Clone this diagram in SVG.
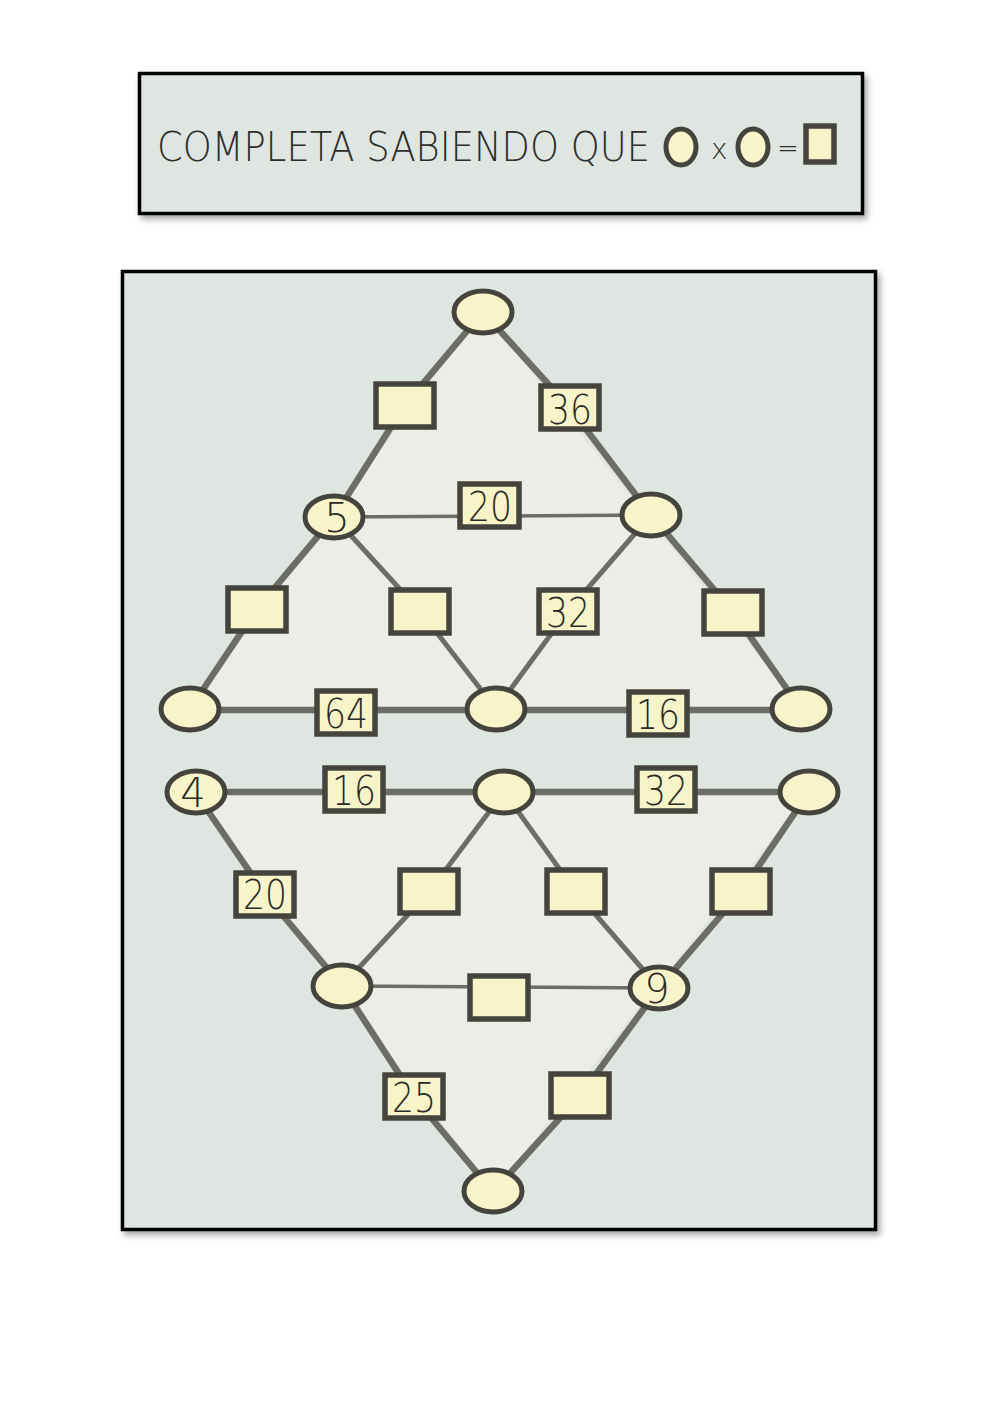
<svg xmlns="http://www.w3.org/2000/svg" width="1000" height="1413" viewBox="0 0 1000 1413">
<defs>
<filter id="sh" x="-5%" y="-5%" width="112%" height="115%">
<feDropShadow dx="3" dy="4" stdDeviation="3" flood-color="#000" flood-opacity="0.35"/>
</filter>
<style>
.frame{fill:#dfe6e1;stroke:#000;stroke-width:3.5}
.tri{fill:#edece7}
.c{fill:#f8f4c9;stroke:#44443d;stroke-width:5}
.s{fill:#f8f4c9;stroke:#44443d;stroke-width:5.5}
.e{stroke:#6c6e66;stroke-width:6.5;fill:none;stroke-linecap:round}
.ei{stroke:#6c6e66;stroke-width:5;fill:none}
.eh{stroke:#6c6e66;stroke-width:3.5;fill:none}
.n{font-family:"DejaVu Sans","Liberation Sans",sans-serif;font-weight:200;font-size:40px;fill:#2a2a26;text-anchor:middle}
.h{font-family:"DejaVu Sans","Liberation Sans",sans-serif;font-weight:200;fill:#2d2d2a}
</style>
</defs>
<rect width="1000" height="1413" fill="#ffffff"/>

<g id="header">
<rect class="frame" x="139.5" y="73.5" width="723" height="140" filter="url(#sh)"/>
<text class="h" x="157" y="161" font-size="41" textLength="493" lengthAdjust="spacingAndGlyphs">COMPLETA SABIENDO QUE</text>
<ellipse class="c" cx="681" cy="147" rx="15" ry="18"/>
<text class="h" x="711" y="159" font-size="28">x</text>
<ellipse class="c" cx="753" cy="147" rx="15" ry="18"/>
<text class="h" x="777" y="157" font-size="26">=</text>
<rect class="s" x="806" y="126" width="28" height="36" stroke-width="5"/>
</g>

<rect id="board" class="frame" x="122.5" y="271.5" width="753" height="958" filter="url(#sh)"/>

<g id="triangles">
<polygon class="tri" points="483,312 190,709 801,709"/>
<polygon class="tri" points="195,792 809,792 493,1192"/>
</g>

<g id="connectors">
<polyline class="e" points="483,312 405,405 334,517 257,609 190,709"/>
<polyline class="e" points="483,312 570,408 651,515 733,612 801,709"/>
<line class="eh" x1="334" y1="517" x2="651" y2="515"/>
<polyline class="ei" points="334,517 420,611 496,709"/>
<polyline class="ei" points="651,515 568,611 496,709"/>
<line class="e" x1="190" y1="710" x2="801" y2="710"/>

<line class="e" x1="195" y1="792" x2="809" y2="792"/>
<polyline class="e" points="195,792 265,894 342,986 414,1097 493,1192"/>
<polyline class="e" points="809,792 741,892 659,988 580,1096 493,1192"/>
<polyline class="ei" points="504,792 429,892 342,986"/>
<polyline class="ei" points="504,792 576,892 659,988"/>
<line class="eh" x1="342" y1="986" x2="659" y2="988"/>
</g>

<g id="n-top"><ellipse class="c" cx="483" cy="312" rx="29" ry="21"/></g>
<g id="s-ul"><rect class="s" x="376" y="384" width="58" height="43"/></g>
<g id="s-36"><rect class="s" x="541" y="386" width="58" height="43"/><text class="n" x="570" y="424" textLength="44" lengthAdjust="spacingAndGlyphs">36</text></g>
<g id="n-5"><ellipse class="c" cx="334" cy="517" rx="29" ry="21"/><text class="n" x="337" y="532">5</text></g>
<g id="s-20a"><rect class="s" x="460" y="484" width="59" height="43"/><text class="n" x="490" y="521" textLength="44" lengthAdjust="spacingAndGlyphs">20</text></g>
<g id="n-r1"><ellipse class="c" cx="651" cy="515" rx="29" ry="21"/></g>
<g id="s-r2a"><rect class="s" x="228" y="588" width="58" height="43"/></g>
<g id="s-r2b"><rect class="s" x="391" y="590" width="58" height="43"/></g>
<g id="s-32a"><rect class="s" x="539" y="590" width="58" height="43"/><text class="n" x="568" y="627" textLength="44" lengthAdjust="spacingAndGlyphs">32</text></g>
<g id="s-r2d"><rect class="s" x="704" y="591" width="58" height="43"/></g>
<g id="n-bl"><ellipse class="c" cx="190" cy="709" rx="29" ry="21"/></g>
<g id="s-64"><rect class="s" x="317" y="691" width="58" height="43"/><text class="n" x="346" y="728" textLength="44" lengthAdjust="spacingAndGlyphs">64</text></g>
<g id="n-bm"><ellipse class="c" cx="496" cy="709" rx="29" ry="21"/></g>
<g id="s-16a"><rect class="s" x="629" y="692" width="58" height="43"/><text class="n" x="658" y="729" textLength="44" lengthAdjust="spacingAndGlyphs">16</text></g>
<g id="n-br"><ellipse class="c" cx="801" cy="709" rx="29" ry="21"/></g>

<g id="n-4"><ellipse class="c" cx="196" cy="792" rx="29" ry="21"/><text class="n" x="193" y="807">4</text></g>
<g id="s-16b"><rect class="s" x="325" y="768" width="58" height="43"/><text class="n" x="354" y="805" textLength="44" lengthAdjust="spacingAndGlyphs">16</text></g>
<g id="n-tm"><ellipse class="c" cx="504" cy="792" rx="29" ry="21"/></g>
<g id="s-32b"><rect class="s" x="637" y="768" width="58" height="43"/><text class="n" x="666" y="805" textLength="44" lengthAdjust="spacingAndGlyphs">32</text></g>
<g id="n-tr"><ellipse class="c" cx="809" cy="792" rx="29" ry="21"/></g>
<g id="s-20b"><rect class="s" x="236" y="873" width="58" height="43"/><text class="n" x="265" y="909" textLength="44" lengthAdjust="spacingAndGlyphs">20</text></g>
<g id="s-l2b"><rect class="s" x="400" y="870" width="58" height="43"/></g>
<g id="s-l2c"><rect class="s" x="547" y="870" width="58" height="43"/></g>
<g id="s-l2d"><rect class="s" x="712" y="870" width="58" height="43"/></g>
<g id="n-ml"><ellipse class="c" cx="342" cy="986" rx="29" ry="21"/></g>
<g id="s-mid"><rect class="s" x="470" y="976" width="58" height="43"/></g>
<g id="n-9"><ellipse class="c" cx="659" cy="988" rx="29" ry="21"/><text class="n" x="657" y="1003">9</text></g>
<g id="s-25"><rect class="s" x="385" y="1075" width="58" height="43"/><text class="n" x="414" y="1112" textLength="44" lengthAdjust="spacingAndGlyphs">25</text></g>
<g id="s-br2"><rect class="s" x="551" y="1074" width="58" height="43"/></g>
<g id="n-bot"><ellipse class="c" cx="493" cy="1191" rx="29" ry="21"/></g>
</svg>
